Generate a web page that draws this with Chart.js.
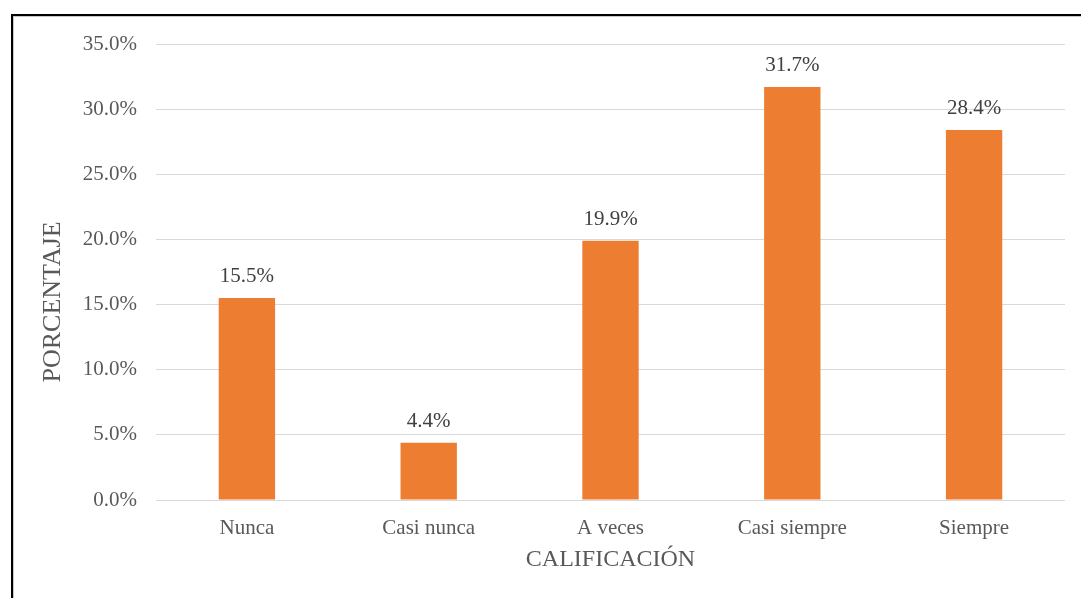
<!DOCTYPE html>
<html>
<head>
<meta charset="utf-8">
<script src="https://cdn.jsdelivr.net/npm/chart.js@4.4.1/dist/chart.umd.min.js"></script>
<style>
html,body{margin:0;padding:0;background:#fff;overflow:hidden;}
#wrap{position:relative;width:1081px;height:598px;}
#frame{position:absolute;left:11px;top:14px;width:1100px;height:620px;border-left:2px solid #000;border-top:2px solid #000;box-shadow:inset 1px 1px 0 #c8c8c8;}
canvas{position:absolute;left:0;top:0;}
</style>
</head>
<body>
<div id="wrap">
<div id="frame"></div>
<canvas id="c" width="1081" height="598"></canvas>
</div>
<script>
const categories = ["Nunca", "Casi nunca", "A veces", "Casi siempre", "Siempre"];
const percentages = [15.5, 4.4, 19.9, 31.7, 28.4];
const yTitle = "PORCENTAJE";
const xTitle = "CALIFICACIÓN";

const fontFamily = "'Liberation Serif', 'Times New Roman', serif";

const dataLabelPlugin = {
  id: 'dataLabels',
  afterDatasetsDraw(chart) {
    const ctx = chart.ctx;
    const meta = chart.getDatasetMeta(0);
    ctx.save();
    ctx.font = "21px " + fontFamily;
    ctx.fillStyle = "#404040";
    ctx.textAlign = "center";
    ctx.textBaseline = "alphabetic";
    meta.data.forEach((bar, i) => {
      ctx.fillText(percentages[i].toFixed(1) + "%", bar.x, bar.y - 16);
    });
    ctx.restore();
  }
};

const yTitlePlugin = {
  id: 'yTitle',
  afterDraw(chart) {
    const ctx = chart.ctx;
    const yScale = chart.scales.y;
    ctx.save();
    ctx.font = "26px " + fontFamily;
    ctx.fillStyle = "#595959";
    ctx.textAlign = "center";
    ctx.textBaseline = "middle";
    ctx.translate(yScale.left + 53, yScale.getPixelForValue(15.2));
    ctx.rotate(-Math.PI / 2);
    ctx.fillText(yTitle, 0, 0);
    ctx.restore();
  }
};

new Chart(document.getElementById('c'), {
  type: 'bar',
  data: {
    labels: categories,
    datasets: [{
      data: percentages,
      backgroundColor: '#ED7D31',
      borderWidth: 0,
      categoryPercentage: 1.0,
      barPercentage: 0.31
    }]
  },
  options: {
    responsive: false,
    animation: false,
    devicePixelRatio: 1,
    layout: { padding: { top: 44, right: 16, bottom: 0, left: 0 } },
    plugins: { legend: { display: false }, tooltip: { enabled: false } },
    scales: {
      x: {
        grid: { display: false },
        border: { display: false },
        ticks: { color: '#595959', font: { family: fontFamily, size: 21 }, padding: 8 },
        title: { display: true, text: xTitle, color: '#595959', font: { family: fontFamily, size: 24 }, padding: { top: 0, bottom: 24 } },
        afterFit(scale) { scale.height = 98; }
      },
      y: {
        min: 0, max: 35,
        grid: { color: '#d9d9d9', lineWidth: 1, drawTicks: false },
        border: { display: false },
        ticks: { stepSize: 5, color: '#595959', font: { family: fontFamily, size: 21 }, padding: 19,
                 callback: v => v.toFixed(1) + '%' },
        title: { display: false },
        afterFit(scale) { scale.width = 156; }
      }
    }
  },
  plugins: [dataLabelPlugin, yTitlePlugin]
});
</script>
</body>
</html>
